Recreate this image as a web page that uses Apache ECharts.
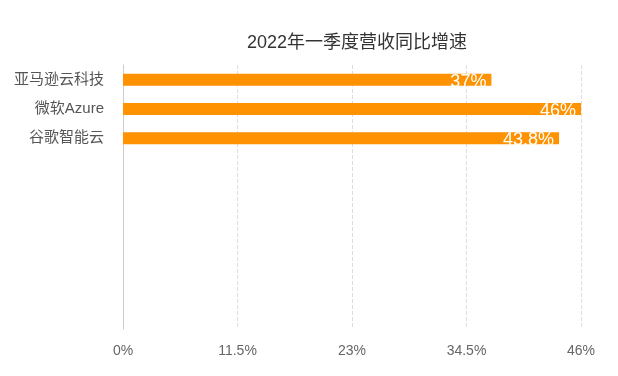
<!DOCTYPE html>
<html>
  <head>
    <meta charset="utf-8" />
    <title>2022年一季度营收同比增速</title>
    <script src="https://cdn.jsdelivr.net/npm/echarts@6/dist/echarts.min.js"></script>
  </head>
  <body style="margin:0;background:#fff;">
    <div id="chart" style="width:618px;height:376px;"></div>
    <script type="text/javascript">
      // data
      var companies = ['亚马逊云科技', '微软Azure', '谷歌智能云'];
      var growth = [37, 46, 43.8];
      var xTicks = [0, 11.5, 23, 34.5, 46];

      var chart = echarts.init(document.getElementById('chart'));
      chart.setOption({
        animation: false,
        textStyle: { fontFamily: 'Liberation Sans, Noto Sans CJK SC, sans-serif' },
        title: {
          text: '2022年一季度营收同比增速',
          left: 352,
          textAlign: 'center',
          top: 29,
          textStyle: { fontSize: 18, fontWeight: 'normal', color: '#333' }
        },
        grid: { left: 123, right: 37, top: 65, bottom: 47 },
        xAxis: {
          type: 'value',
          min: xTicks[0],
          max: xTicks[xTicks.length - 1],
          interval: xTicks[1] - xTicks[0],
          axisLine: { show: false },
          axisTick: { show: false },
          axisLabel: { formatter: '{value}%', color: '#666', fontSize: 14, margin: 15 },
          splitLine: { show: true, lineStyle: { type: 'dashed', color: '#ddd' } }
        },
        yAxis: {
          type: 'category',
          inverse: true,
          data: companies,
          max: 8,
          axisLine: { show: true, lineStyle: { color: '#ccc' } },
          axisTick: { show: false },
          axisLabel: { color: '#555', fontSize: 15, margin: 19 }
        },
        series: [{
          type: 'bar',
          data: growth,
          barWidth: 12,
          itemStyle: { color: '#ff9200' },
          label: {
            show: true,
            position: 'insideRight',
            distance: 5,
            offset: [0, 2],
            formatter: '{c}%',
            color: '#fff',
            fontSize: 18
          }
        }]
      });
    </script>
  </body>
</html>
